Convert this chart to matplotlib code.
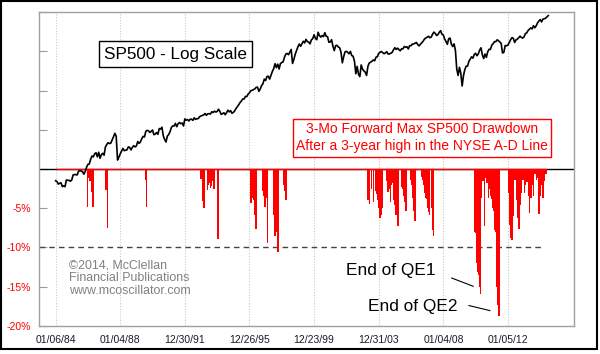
import numpy as np
import matplotlib
matplotlib.use("Agg")
import matplotlib.pyplot as plt
from matplotlib.patches import Rectangle

plt.rcParams['font.family'] = ['Liberation Sans', 'DejaVu Sans']

# ------------------------------------------------------------
# DATA
# ------------------------------------------------------------
# SP500 month-end levels, starting with Dec 1983 (a few months use the
# intra-month extreme that the chart shows)
sp500_close = [
    165,
    163, 157, 159, 160, 151, 153, 151, 167, 166, 166, 164, 167,          # 1984
    180, 181, 181, 180, 190, 192, 191, 189, 182, 190, 202, 211,          # 1985
    212, 227, 239, 236, 247, 251, 236, 253, 231, 244, 249, 242,          # 1986
    274, 284, 292, 288, 290, 304, 319, 336, 322, 225, 235, 247,          # 1987
    257, 268, 259, 261, 262, 274, 272, 262, 272, 279, 274, 278,          # 1988
    297, 289, 295, 310, 321, 318, 346, 351, 349, 340, 346, 353,          # 1989
    329, 332, 340, 331, 361, 358, 368, 323, 306, 295, 322, 330,          # 1990
    344, 367, 375, 375, 390, 371, 388, 395, 388, 392, 375, 417,          # 1991
    409, 413, 404, 415, 415, 408, 424, 414, 418, 419, 431, 436,          # 1992
    439, 443, 452, 440, 450, 451, 448, 464, 459, 468, 462, 466,          # 1993
    482, 467, 446, 451, 457, 444, 458, 475, 463, 472, 454, 459,          # 1994
    470, 487, 501, 515, 533, 545, 562, 562, 584, 582, 605, 616,          # 1995
    636, 640, 646, 654, 669, 671, 630, 652, 687, 705, 757, 741,          # 1996
    786, 791, 757, 801, 848, 885, 954, 899, 947, 880, 955, 970,          # 1997
    980, 1049, 1102, 1112, 1091, 1134, 1180, 957, 1017, 1099, 1164, 1229,  # 1998
    1280, 1238, 1286, 1335, 1302, 1373, 1329, 1320, 1283, 1363, 1389, 1469,  # 1999
    1394, 1366, 1527, 1452, 1421, 1455, 1431, 1518, 1437, 1429, 1315, 1320,  # 2000
    1366, 1240, 1160, 1249, 1256, 1224, 1211, 1134, 966, 1060, 1139, 1148,   # 2001
    1130, 1107, 1147, 1077, 1067, 990, 820, 916, 815, 786, 936, 880,         # 2002
    856, 841, 800, 917, 964, 975, 990, 1008, 996, 1051, 1058, 1112,          # 2003
    1131, 1145, 1126, 1107, 1121, 1141, 1102, 1104, 1115, 1130, 1174, 1212,  # 2004
    1181, 1204, 1181, 1157, 1192, 1191, 1234, 1220, 1229, 1190, 1249, 1248,  # 2005
    1280, 1281, 1295, 1311, 1270, 1245, 1277, 1304, 1336, 1378, 1401, 1418,  # 2006
    1438, 1407, 1421, 1482, 1531, 1503, 1455, 1474, 1527, 1565, 1481, 1468,  # 2007
    1379, 1331, 1275, 1386, 1400, 1280, 1234, 1283, 1166, 880, 800, 903,     # 2008
    826, 683, 798, 873, 919, 919, 987, 1021, 1057, 1036, 1096, 1115,         # 2009
    1074, 1104, 1169, 1210, 1089, 1030, 1102, 1049, 1141, 1183, 1181, 1258,  # 2010
    1286, 1327, 1326, 1364, 1345, 1321, 1292, 1119, 1131, 1253, 1247, 1258,  # 2011
    1312, 1366, 1408, 1398, 1310, 1362, 1379, 1407, 1441, 1412, 1400, 1426,  # 2012
    1498, 1515, 1569, 1598, 1631, 1606, 1686, 1633, 1682, 1757, 1806, 1848,  # 2013
    1783, 1859, 1872, 1884, 1924, 1960,                                      # 2014
]
sp500_start_year = 1984.0

# 3-month forward max drawdown (%) after a 3-year high in the NYSE A-D line
dd_years = [
    1985.96, 1986.06, 1986.12, 1986.19, 1986.25, 1986.31,
    1987.10, 1987.16, 1987.22,
    1989.57, 1989.61,
    1993.00, 1993.10, 1993.18, 1993.41, 1993.45, 1993.49, 1993.53, 1993.57,
    1993.62, 1993.66, 1993.71, 1993.76, 1993.80, 1994.01, 1994.05,
    1996.09, 1996.13, 1996.17, 1996.22, 1996.26, 1996.30, 1996.34, 1996.40,
    1996.79, 1996.84, 1996.88, 1996.92, 1996.96, 1997.02, 1997.07, 1997.13,
    1997.50, 1997.54, 1997.58, 1997.63, 1997.68, 1997.72, 1997.76,
    1998.12, 1998.16, 1998.20, 1998.26,
    2003.34, 2003.39, 2003.44, 2003.54, 2003.67, 2003.79, 2003.84, 2003.89,
    2003.95, 2004.00, 2004.04, 2004.08, 2004.12, 2004.16, 2004.22,
    2004.50, 2004.58, 2004.62, 2004.66, 2004.74, 2004.78, 2004.82, 2004.90,
    2004.95, 2004.99, 2005.03, 2005.07, 2005.20,
    2005.44, 2005.48, 2005.52, 2005.57, 2005.61, 2005.65, 2005.69,
    2006.00, 2006.05, 2006.11, 2006.15, 2006.19, 2006.25,
    2006.64, 2006.68, 2006.72, 2006.76, 2006.80, 2006.85, 2006.89, 2006.93,
    2006.97, 2007.01, 2007.05, 2007.09, 2007.13, 2007.26, 2007.30, 2007.34,
    2007.41,
    2009.96, 2010.00, 2010.04, 2010.08, 2010.13, 2010.17, 2010.21, 2010.25,
    2010.29, 2010.38, 2010.46, 2010.54, 2010.63, 2010.71, 2010.79, 2010.83,
    2010.87, 2010.91, 2010.95, 2010.99, 2011.03, 2011.08, 2011.12, 2011.16,
    2011.20, 2011.24, 2011.28, 2011.33, 2011.37, 2011.41, 2011.45,
    2012.03, 2012.07, 2012.11, 2012.15, 2012.19, 2012.23, 2012.27, 2012.31,
    2012.36, 2012.44, 2012.52, 2012.57, 2012.61, 2012.65, 2012.69, 2012.77,
    2012.85, 2012.93, 2013.02, 2013.10, 2013.18, 2013.26, 2013.30, 2013.35,
    2013.43, 2013.51, 2013.60, 2013.68, 2013.76, 2013.85, 2013.93, 2014.01,
    2014.10, 2014.18, 2014.26, 2014.35,
]
dd_depth = [
    -4.9, -1.2, -1.5, -1.0, -2.9, -4.9,
    -2.7, -2.7, -7.5,
    -1.4, -4.9,
    -1.3, -4.1, -5.0, -2.7, -2.0, -1.4, -1.8, -2.4,
    -2.2, -1.0, -1.5, -1.2, -2.5, -7.5, -8.9,
    -4.4, -3.0, -3.7, -2.5, -3.9, -4.5, -5.9, -7.6,
    -2.3, -2.8, -3.5, -4.0, -4.8, -3.0, -3.7, -9.5,
    -5.9, -6.5, -8.6, -8.0, -8.0, -7.5, -10.6,
    -2.0, -2.8, -2.8, -3.9,
    -4.0, -3.5, -4.5, -2.5, -4.2, -2.3, -2.8, -3.2,
    -4.0, -5.0, -5.5, -6.3, -6.0, -5.9, -5.0,
    -1.5, -2.9, -2.5, -2.6, -4.2, -2.0, -1.8, -3.2,
    -4.0, -4.6, -5.0, -5.9, -7.3,
    -2.3, -2.6, -2.7, -3.5, -4.2, -4.8, -5.4,
    -1.4, -2.0, -3.7, -4.5, -5.4, -6.7,
    -0.6, -1.0, -1.4, -1.8, -2.1, -3.0, -3.5, -3.7,
    -3.8, -4.5, -5.0, -5.5, -5.9, -4.2, -5.0, -7.8,
    -8.6,
    -8.0, -8.2, -8.4, -12.0, -13.1, -13.3, -13.5, -15.0,
    -16.0, -3.7, -1.5, -7.3, -1.2, -1.8, -3.7, -2.5,
    -1.2, -3.0, -3.4, -3.8, -4.2, -5.0, -5.4, -7.0,
    -7.8, -8.0, -8.4, -15.0, -17.3, -18.0, -18.8,
    -0.6, -3.0, -7.1, -8.0, -8.8, -9.0, -9.0, -6.0,
    -5.0, -1.4, -2.4, -4.0, -6.3, -7.0, -7.6, -4.6,
    -3.0, -1.4, -3.0, -2.1, -1.6, -2.1, -3.5, -5.6,
    -3.7, -2.1, -3.4, -0.6, -1.4, -1.2, -5.8, -3.4,
    -2.1, -3.7, -1.5, -0.6,
]
signal_start, signal_end = 1984.0, 2014.35
threshold = -10

tick_years = [1984.01, 1988.01, 1991.99, 1995.98, 1999.97, 2004.00, 2008.01, 2012.01]
tick_labels = ["01/06/84", "01/04/88", "12/30/91", "12/26/95",
               "12/23/99", "12/31/03", "01/04/08", "01/05/12"]
y_ticks = [-20, -15, -10, -5, 0, 5, 10, 15, 20]
y_labels = ["-20%", "-15%", "-10%", "-5%", "", "", "", "", ""]

# ------------------------------------------------------------
# FIGURE
# ------------------------------------------------------------
fig = plt.figure(figsize=(6.0, 3.54), dpi=100)
fig.patch.set_facecolor("white")
ax = fig.add_axes([39.3 / 600, 1 - 325.7 / 354, 535 / 600, 313.4 / 354])

ax.set_xlim(1982.99, 2016.11)
ax.set_ylim(-20, 20)

# drawdown bars + zero line + -10% threshold
ax.axhline(0, color="black", lw=1.0, zorder=2)
ax.hlines(0, signal_start, signal_end, color="red", lw=1.0, zorder=3)
ax.bar(dd_years, dd_depth, width=0.085, color="red", linewidth=0, zorder=3)
ax.axhline(threshold, xmax=(2014.2 - 1982.99) / (2016.11 - 1982.99),
           color="#444444", lw=1.0, linestyle=(0, (4, 3)), zorder=2)

ax.set_xticks(tick_years)
ax.set_xticklabels(tick_labels)
ax.set_yticks(y_ticks)
ax.set_yticklabels(y_labels)
ax.tick_params(axis="x", length=0, labelsize=7.5, labelcolor="#1a1a2a", pad=7)
ax.tick_params(axis="y", direction="in", length=6, color="#999999",
               labelcolor="red", labelsize=7.5, pad=6)
ax.grid(axis="x", color="#c8c8c8", linestyle=(0, (1, 1.5)), lw=0.8, zorder=0)
for s in ax.spines.values():
    s.set_color("#a0a0a0")
    s.set_linewidth(1.0)

# SP500 on its own log scale
ax2 = ax.twinx()
ax2.set_yscale("log")
ax2.set_ylim(18.8, 2060)
sp_x = sp500_start_year + np.arange(len(sp500_close)) / 12
ax2.plot(sp_x, sp500_close, color="black", lw=1.2)
ax2.set_yticks([])
ax2.yaxis.set_minor_locator(matplotlib.ticker.NullLocator())
for s in ax2.spines.values():
    s.set_visible(False)

# labels
ax2.text(1991.42, 14.67, "SP500 - Log Scale", transform=ax.transData,
         ha="center", va="center", fontsize=12.3, color="black",
         bbox=dict(boxstyle="square,pad=0.3", fc="white", ec="black", lw=1))
ax2.text(2006.68, 4.0, "3-Mo Forward Max SP500 Drawdown\nAfter a 3-year high in the NYSE A-D Line",
         transform=ax.transData, ha="center", va="center", fontsize=10,
         color="red", linespacing=1.25,
         bbox=dict(boxstyle="square,pad=0.25", fc="white", ec="red", lw=1))
ax2.text(1984.82, -11.6, "\u00a92014, McClellan\nFinancial Publications\nwww.mcoscillator.com",
         transform=ax.transData, ha="left", va="top", fontsize=8.9,
         color="#808080", linespacing=1.05)

ax2.text(2004.72, -12.98, "End of QE1", transform=ax.transData,
         ha="center", va="center", fontsize=12.4, color="black")
ax2.text(2006.12, -17.56, "End of QE2", transform=ax.transData,
         ha="center", va="center", fontsize=12.4, color="black")
ax.annotate("", xy=(2010.02, -15.1), xytext=(2008.35, -13.78),
            arrowprops=dict(arrowstyle="-", color="black", lw=0.8))
ax.annotate("", xy=(2011.06, -18.16), xytext=(2009.41, -17.34),
            arrowprops=dict(arrowstyle="-", color="black", lw=0.8))

# outer frame
fig.add_artist(Rectangle((0.8 / 600, 1 - 348.5 / 354), 596 / 600, 347.5 / 354,
                         transform=fig.transFigure, fill=False,
                         ec="black", lw=1.5))

fig.savefig("out.png", dpi=100)
